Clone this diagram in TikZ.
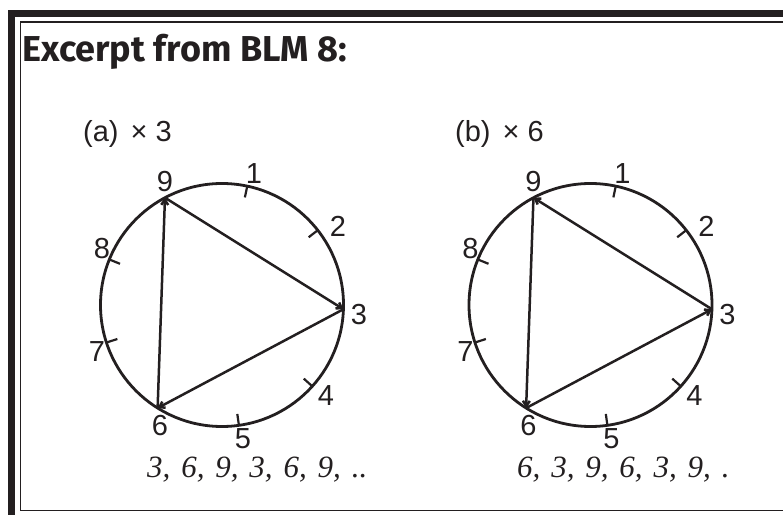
\documentclass[tikz,border=0pt]{standalone}
\usepackage{fontspec}
\setmainfont{Liberation Sans}
\newfontfamily\headfont{Fira Sans}
\newfontfamily\seqfont[WordSpace=1.4]{Liberation Serif}
\usetikzlibrary{arrows.meta}
\definecolor{ink}{HTML}{231F20}

\begin{document}
\begin{tikzpicture}[x=1pt, y=1pt,
  frameouter/.style={draw=ink, line width=6.5pt},
  frameinner/.style={draw=ink, line width=1.6pt},
  ring/.style={draw=ink, line width=2.8pt},
  chord/.style={draw=ink, line width=2.5pt, -{Straight Barb[length=5pt, width=7pt]}},
  tickmark/.style={draw=ink, line width=2.2pt},
  clocknum/.style={font=\fontsize{29}{29}\selectfont, text=ink, inner sep=0pt},
  headtext/.style={font=\headfont\bfseries\fontsize{36}{36}\selectfont, text=ink, inner sep=0pt},
  seqtext/.style={font=\seqfont\itshape\fontsize{31}{31}\selectfont, text=ink, inner sep=0pt}]
\useasboundingbox (0,0) rectangle (783,514);
\clip (0,0) rectangle (783,514);

% frame
\coordinate (fo1) at (11.5,-10);
\coordinate (fo2) at (11.5,500.5);
\coordinate (fo3) at (800,500.5);
\draw[frameouter] (fo1) -- (fo2) -- (fo3);
\coordinate (fi1) at (800,3.5);
\coordinate (fi2) at (20.5,3.5);
\coordinate (fi3) at (20.5,492);
\coordinate (fi4) at (800,492);
\draw[frameinner] (fi1) -- (fi2) -- (fi3) -- (fi4);

\node[headtext, anchor=base west] (title) at (22,452) {Excerpt from BLM 8:};

% (a) times 3
\coordinate (ca) at (222,209);
\draw[ring] (ca) circle (121.5);
\foreach \k in {1,2,4,5,7,8}
  \draw[tickmark] ([shift={(118-40*\k:122)}]ca) -- ([shift={(118-40*\k:110)}]ca);
\foreach \k/\dx/\dy in {1/32/131, 2/116/79, 3/137/-10, 4/104/-91, 5/21/-134,
                        6/-62/-121, 7/-125/-47, 8/-120/56, 9/-57/123}
  \node[clocknum] (a-n\k) at ([shift={(\dx,\dy)}]ca) {\k};
\coordinate (a3) at ([shift={(-2:121.5)}]ca);
\coordinate (a6) at ([shift={(238:121.5)}]ca);
\coordinate (a9) at ([shift={(118:121.5)}]ca);
\draw[chord] (a3) -- (a6);
\draw[chord] (a6) -- (a9);
\draw[chord] (a9) -- (a3);
\node[clocknum, anchor=base west] (a-head) at (83,372) {(a)\hspace{12pt}× 3};
\node[seqtext, anchor=base west] (a-seq) at (147,37) {3, 6, 9, 3, 6, 9, ..};

% (b) times 6
\coordinate (cb) at (590.5,209);
\draw[ring] (cb) circle (121.5);
\foreach \k in {1,2,4,5,7,8}
  \draw[tickmark] ([shift={(118-40*\k:122)}]cb) -- ([shift={(118-40*\k:110)}]cb);
\foreach \k/\dx/\dy in {1/32/131, 2/116/79, 3/137/-10, 4/104/-91, 5/21/-134,
                        6/-62/-121, 7/-125/-47, 8/-120/56, 9/-57/123}
  \node[clocknum] (b-n\k) at ([shift={(\dx,\dy)}]cb) {\k};
\coordinate (b3) at ([shift={(-2:121.5)}]cb);
\coordinate (b6) at ([shift={(238:121.5)}]cb);
\coordinate (b9) at ([shift={(118:121.5)}]cb);
\draw[chord] (b6) -- (b3);
\draw[chord] (b3) -- (b9);
\draw[chord] (b9) -- (b6);
\node[clocknum, anchor=base west] (b-head) at (455,372) {(b)\hspace{12pt}× 6};
\node[seqtext, anchor=base west] (b-seq) at (517,37) {6, 3, 9, 6, 3, 9, .};
\end{tikzpicture}
\end{document}
